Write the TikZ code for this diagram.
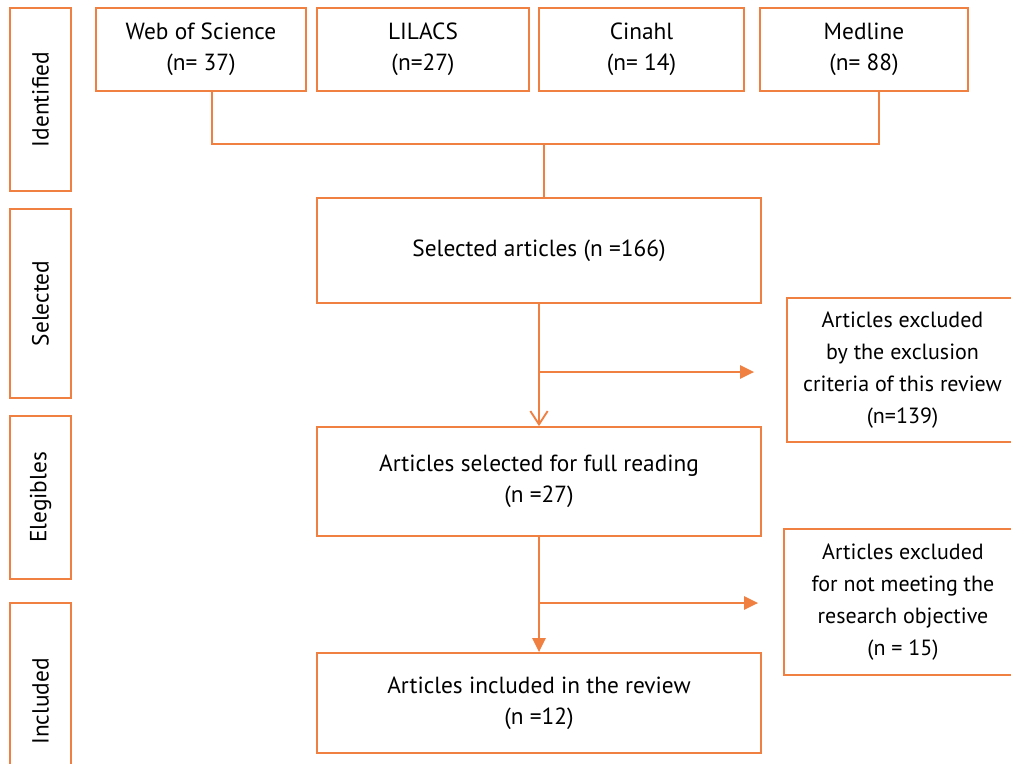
\documentclass[tikz,border=0pt]{standalone}
\usepackage{fontspec}
\setmainfont{PT Sans}
\usetikzlibrary{arrows.meta}
\definecolor{flowline}{RGB}{240,128,66}
\begin{document}
\begin{tikzpicture}[x=0.75pt,y=-0.75pt,
  box/.style={draw=flowline,line width=1.4pt,align=center,inner sep=2pt,
    font=\fontsize{17.5}{23.5}\selectfont},
  phase/.style={box,rotate=90,minimum height=45.75pt},
  exclbox/.style={box,font=\fontsize{16.5}{24}\selectfont},
  link/.style={draw=flowline,line width=1.4pt}]
  \useasboundingbox (0,0) rectangle (1011,764);
  \node[phase,minimum width=137.25pt] (identified) at (40.5,99.5) {Identified};
  \node[phase,minimum width=141.75pt] (selphase) at (40.5,303.5) {Selected};
  \node[phase,minimum width=122.25pt] (elegibles) at (40.5,497.5) {Elegibles};
  \node[phase,minimum width=147.75pt] (incphase) at (40.5,701.5) {Included};
  \node[box,minimum width=157.5pt,minimum height=62.25pt] (wos) at (201,49.5) {Web of Science\\(n= 37)};
  \node[box,minimum width=159pt,minimum height=62.25pt] (lilacs) at (423,49.5) {LILACS\\(n=27)};
  \node[box,minimum width=153.75pt,minimum height=62.25pt] (cinahl) at (641.5,49.5) {Cinahl\\(n= 14)};
  \node[box,minimum width=156pt,minimum height=62.25pt] (medline) at (864,49.5) {Medline\\(n= 88)};
  \node[box,minimum width=333pt,minimum height=78.75pt] (selected) at (539,250.5) {Selected articles (n =166)};
  \node[box,minimum width=333pt,minimum height=81.75pt] (reading) at (539,481.5) {Articles selected for full reading\\(n =27)};
  \node[box,minimum width=333pt,minimum height=75pt] (included) at (539,703) {Articles included in the review\\(n =12)};
  \node[exclbox,minimum width=173.25pt,minimum height=108pt] (excl1) at (902.5,370) {Articles excluded\\by the exclusion\\criteria of this review\\(n=139)};
  \node[exclbox,minimum width=178.5pt,minimum height=109.5pt] (excl2) at (903,602) {Articles excluded\\for not meeting the\\research objective\\(n = 15)};
  \coordinate (jl) at (212,144);
  \coordinate (jr) at (879,144);
  \coordinate (jm) at (544,144);
  \coordinate (b1) at (539,372);
  \coordinate (b2) at (539,603);
  \draw[link] (wos.south -| jl) -- (jl) -- (jr) -- (medline.south -| jr);
  \draw[link] (jm) -- (jm |- selected.north);
  \draw[link,-{Straight Barb[length=10pt,width=13pt]}] (selected.south) -- (reading.north);
  \draw[link,-{Triangle[length=10.5pt,width=10pt]},shorten >=24pt] (b1) -- (b1 -| excl1.west);
  \draw[link,-{Triangle[length=10.5pt,width=10pt]}] (reading.south) -- (included.north);
  \draw[link,-{Triangle[length=10.5pt,width=10pt]},shorten >=18.75pt] (b2) -- (b2 -| excl2.west);
\end{tikzpicture}
\end{document}
